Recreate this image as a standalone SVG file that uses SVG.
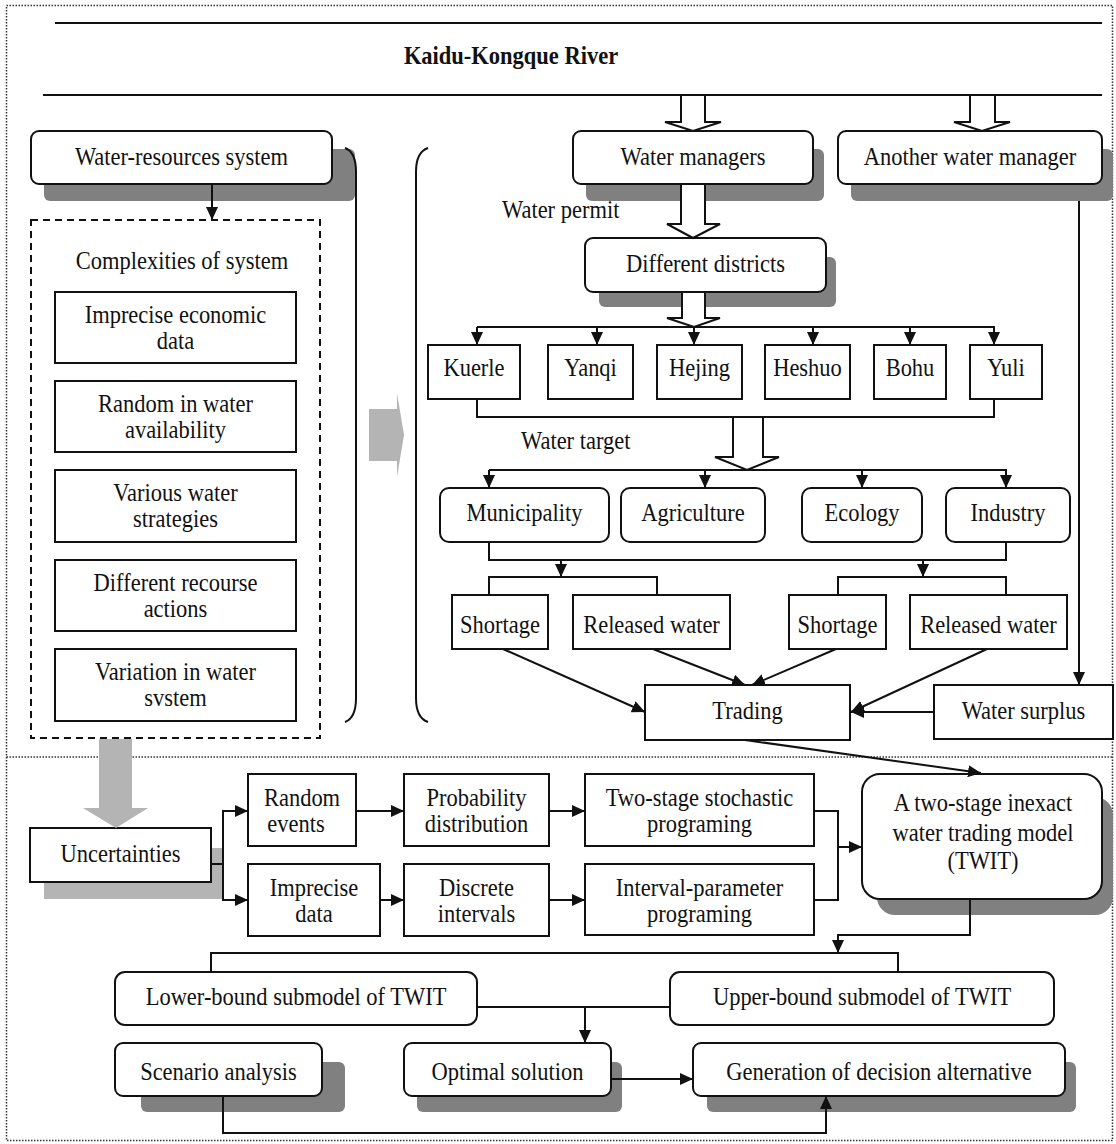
<svg xmlns="http://www.w3.org/2000/svg" width="1116" height="1144" viewBox="0 0 1116 1144">
<style>
.bx{fill:#fff;stroke:#111;stroke-width:2}
.sh{fill:#808080}
.t{font-family:"Liberation Serif","Times New Roman",serif;font-size:25px;fill:#111;text-anchor:middle;transform-box:fill-box;transform-origin:50% 50%;transform:scaleX(0.9)}
.ts{font-family:"Liberation Serif","Times New Roman",serif;font-size:25px;fill:#111;transform-box:fill-box;transform-origin:0% 50%;transform:scaleX(0.9)}
.ln{fill:none;stroke:#111;stroke-width:2}
.ar{fill:none;stroke:#111;stroke-width:2;marker-end:url(#ah)}
.ho{fill:#fff;stroke:#111;stroke-width:2;stroke-linejoin:miter}
.gr{fill:#b4b4b4}
.dot{fill:none;stroke:#333;stroke-width:1.5;stroke-dasharray:1.5 1.5}
</style>
<defs>
<marker id="ah" markerUnits="userSpaceOnUse" markerWidth="13" markerHeight="12" refX="13" refY="6" orient="auto">
<path d="M0,0 L13,6 L0,12 z" fill="#111"/>
</marker>
</defs>
<rect width="1116" height="1144" fill="#fff"/>
<g id="frame">
<rect class="dot" x="6.5" y="5.5" width="1106" height="1135"/>
<line class="dot" x1="6.5" y1="757" x2="1112.5" y2="757"/>
</g>
<g id="river">
<line class="ln" x1="55" y1="23" x2="1102" y2="23"/>
<line class="ln" x1="43" y1="95" x2="1102" y2="95"/>
<text class="t" x="511" y="64" font-weight="bold">Kaidu-Kongque River</text>
</g>
<g id="water-resources">
<rect class="sh" x="44" y="149" width="311" height="52" rx="6"/>
<rect class="bx" x="31" y="131" width="301" height="53" rx="8"/>
<text class="t" x="181.5" y="165">Water-resources system</text>
</g>
<g id="braces">
<path class="ln" d="M345,148 Q356,152 356,172 L356,698 Q356,718 345,722"/>
<path class="ln" d="M428,148 Q416,152 416,172 L416,698 Q416,718 428,722"/>
</g>
<g id="complexities">
<rect x="31" y="220" width="289" height="518" fill="none" stroke="#111" stroke-width="2" stroke-dasharray="7 5"/>
<text class="t" x="182" y="269">Complexities of system</text>
</g>
<g id="c1"><rect class="bx" x="55" y="292" width="241" height="71"/><text class="t" x="175.5" y="323">Imprecise economic</text><text class="t" x="175.5" y="349">data</text></g>
<g id="c2"><rect class="bx" x="55" y="381" width="241" height="71"/><text class="t" x="175.5" y="412">Random in water</text><text class="t" x="175.5" y="438">availability</text></g>
<g id="c3"><rect class="bx" x="55" y="470" width="241" height="72"/><text class="t" x="175.5" y="501">Various water</text><text class="t" x="175.5" y="527">strategies</text></g>
<g id="c4"><rect class="bx" x="55" y="560" width="241" height="71"/><text class="t" x="175.5" y="591">Different recourse</text><text class="t" x="175.5" y="617">actions</text></g>
<g id="c5"><rect class="bx" x="55" y="649" width="241" height="72"/><text class="t" x="175.5" y="680">Variation in water</text><text class="t" x="175.5" y="706">svstem</text></g>

<g id="water-managers">
<rect class="sh" x="586" y="149" width="238" height="52" rx="6"/>
<rect class="bx" x="573" y="131" width="240" height="53" rx="8"/>
<text class="t" x="693" y="165">Water managers</text>
</g>
<g id="another-manager">
<rect class="sh" x="851" y="149" width="262" height="52" rx="6"/>
<rect class="bx" x="838" y="131" width="264" height="53" rx="8"/>
<text class="t" x="970" y="165">Another water manager</text>
</g>
<g id="water-permit"><text class="ts" x="502" y="218">Water permit</text></g>
<g id="districts">
<rect class="sh" x="599" y="257" width="237" height="50" rx="6"/>
<rect class="bx" x="585" y="238" width="241" height="54" rx="8"/>
<text class="t" x="705.5" y="272">Different districts</text>
</g>
<g id="kuerle"><rect class="bx" x="428" y="345" width="92" height="54"/><text class="t" x="474" y="376">Kuerle</text></g>
<g id="yanqi"><rect class="bx" x="548" y="345" width="85" height="54"/><text class="t" x="590.5" y="376">Yanqi</text></g>
<g id="hejing"><rect class="bx" x="657" y="345" width="85" height="54"/><text class="t" x="699.5" y="376">Hejing</text></g>
<g id="heshuo"><rect class="bx" x="765" y="345" width="85" height="54"/><text class="t" x="807.5" y="376">Heshuo</text></g>
<g id="bohu"><rect class="bx" x="874" y="345" width="72" height="54"/><text class="t" x="910" y="376">Bohu</text></g>
<g id="yuli"><rect class="bx" x="970" y="345" width="72" height="54"/><text class="t" x="1006" y="376">Yuli</text></g>
<g id="water-target"><text class="ts" x="521" y="449">Water target</text></g>
<g id="municipality"><rect class="bx" x="440" y="488" width="169" height="54" rx="9"/><text class="t" x="524.5" y="521">Municipality</text></g>
<g id="agriculture"><rect class="bx" x="621" y="488" width="144" height="54" rx="9"/><text class="t" x="693" y="521">Agriculture</text></g>
<g id="ecology"><rect class="bx" x="802" y="488" width="120" height="54" rx="9"/><text class="t" x="862" y="521">Ecology</text></g>
<g id="industry"><rect class="bx" x="946" y="488" width="124" height="54" rx="9"/><text class="t" x="1008" y="521">Industry</text></g>
<g id="shortage1"><rect class="bx" x="452" y="595" width="96" height="54"/><text class="t" x="500" y="633">Shortage</text></g>
<g id="released1"><rect class="bx" x="573" y="595" width="157" height="54"/><text class="t" x="651.5" y="633">Released water</text></g>
<g id="shortage2"><rect class="bx" x="789" y="595" width="97" height="54"/><text class="t" x="837.5" y="633">Shortage</text></g>
<g id="released2"><rect class="bx" x="910" y="595" width="157" height="54"/><text class="t" x="988.5" y="633">Released water</text></g>
<g id="trading"><rect class="bx" x="645" y="685" width="205" height="55"/><text class="t" x="747.5" y="719">Trading</text></g>
<g id="water-surplus"><rect class="bx" x="934" y="685" width="179" height="54"/><text class="t" x="1023.5" y="719">Water surplus</text></g>

<g id="uncertainties">
<rect class="gr" x="44" y="848" width="179" height="51"/>
<rect class="bx" x="30" y="828" width="181" height="54"/>
<text class="t" x="120.5" y="862">Uncertainties</text>
</g>
<g id="random-events"><rect class="bx" x="248" y="774" width="108" height="72"/><text class="t" x="302" y="806">Random</text><text class="t" x="296" y="832">events</text></g>
<g id="probability"><rect class="bx" x="404" y="774" width="145" height="72"/><text class="t" x="476.5" y="806">Probability</text><text class="t" x="476.5" y="832">distribution</text></g>
<g id="two-stage"><rect class="bx" x="585" y="774" width="229" height="72"/><text class="t" x="699.5" y="806">Two-stage stochastic</text><text class="t" x="699.5" y="832">programing</text></g>
<g id="imprecise-data"><rect class="bx" x="248" y="864" width="132" height="72"/><text class="t" x="314" y="896">Imprecise</text><text class="t" x="314" y="922">data</text></g>
<g id="discrete"><rect class="bx" x="404" y="864" width="145" height="72"/><text class="t" x="476.5" y="896">Discrete</text><text class="t" x="476.5" y="922">intervals</text></g>
<g id="interval-param"><rect class="bx" x="585" y="864" width="229" height="71"/><text class="t" x="699.5" y="896">Interval-parameter</text><text class="t" x="699.5" y="922">programing</text></g>
<g id="twit">
<rect class="sh" x="877" y="797" width="236" height="118" rx="18"/>
<rect class="bx" x="862" y="774" width="240" height="125" rx="18"/>
<text class="t" x="983" y="811">A two-stage inexact</text>
<text class="t" x="983" y="841">water trading model</text>
<text class="t" x="983" y="869">(TWIT)</text>
</g>
<g id="lower-bound"><rect class="bx" x="115" y="972" width="362" height="53" rx="10"/><text class="t" x="296" y="1005">Lower-bound submodel of TWIT</text></g>
<g id="upper-bound"><rect class="bx" x="670" y="972" width="384" height="53" rx="10"/><text class="t" x="862" y="1005">Upper-bound submodel of TWIT</text></g>
<g id="scenario">
<rect class="sh" x="141" y="1062" width="204" height="50" rx="6"/>
<rect class="bx" x="115" y="1043" width="207" height="53" rx="8"/>
<text class="t" x="218.5" y="1080">Scenario analysis</text>
</g>
<g id="optimal">
<rect class="sh" x="417" y="1062" width="205" height="50" rx="6"/>
<rect class="bx" x="404" y="1043" width="207" height="53" rx="8"/>
<text class="t" x="507.5" y="1080">Optimal solution</text>
</g>
<g id="generation">
<rect class="sh" x="707" y="1062" width="369" height="50" rx="6"/>
<rect class="bx" x="693" y="1043" width="372" height="53" rx="8"/>
<text class="t" x="879" y="1080">Generation of decision alternative</text>
</g>

<g id="connectors">
<polygon class="ho" points="681,95 681,122 665,122 693,131 721,122 705,122 705,95"/>
<polygon class="ho" points="970,95 970,122 954,122 982,131 1010,122 995,122 995,95"/>
<polygon class="ho" points="681,184 681,224 667,224 693,238 720,224 705,224 705,184"/>
<polygon class="ho" points="682,292 682,318 667,318 694,327 720,318 705,318 705,292"/>
<polygon class="ho" points="733,417 733,457 715,457 747,470 779,457 763,457 763,417"/>
<line class="ar" x1="212" y1="184" x2="212" y2="220"/>
<polygon class="gr" points="369,409 397,409 397,393 404,435 397,477 397,461 369,461"/>
<line class="ln" x1="477" y1="327" x2="994" y2="327"/>
<line class="ar" x1="477" y1="327" x2="477" y2="345"/>
<line class="ar" x1="597" y1="327" x2="597" y2="345"/>
<line class="ar" x1="694" y1="327" x2="694" y2="345"/>
<line class="ar" x1="813" y1="327" x2="813" y2="345"/>
<line class="ar" x1="910" y1="327" x2="910" y2="345"/>
<line class="ar" x1="994" y1="326" x2="994" y2="345"/>
<path class="ln" d="M477,399 V417 H994 V399"/>
<line class="ln" x1="489" y1="470" x2="1006" y2="470"/>
<line class="ar" x1="489" y1="470" x2="489" y2="488"/>
<line class="ar" x1="705" y1="470" x2="705" y2="488"/>
<line class="ar" x1="862" y1="470" x2="862" y2="488"/>
<line class="ar" x1="1006" y1="469" x2="1006" y2="488"/>
<path class="ln" d="M489,542 V560 H1006 V542"/>
<line class="ar" x1="561" y1="560" x2="561" y2="577"/>
<line class="ar" x1="923" y1="560" x2="923" y2="577"/>
<path class="ln" d="M489,595 V577 H657 V595"/>
<path class="ln" d="M838,595 V577 H1006 V595"/>
<line class="ar" x1="503" y1="649" x2="645" y2="712"/>
<line class="ar" x1="653" y1="649" x2="745" y2="685"/>
<line class="ar" x1="836" y1="649" x2="752" y2="685"/>
<line class="ar" x1="987" y1="649" x2="851" y2="712"/>
<line class="ar" x1="934" y1="712" x2="851" y2="712"/>
<line class="ar" x1="1079" y1="201" x2="1079" y2="685"/>
<line class="ar" x1="745" y1="740" x2="981" y2="773"/>
<polygon class="gr" points="99,739 99,808 83,808 116,828 148,808 132,808 132,739"/>
<path class="ln" d="M211,864 H223"/>
<path class="ln" d="M248,811 H223 V900 H248"/>
<line class="ar" x1="223" y1="811" x2="248" y2="811"/>
<line class="ar" x1="223" y1="900" x2="248" y2="900"/>
<line class="ar" x1="356" y1="811" x2="404" y2="811"/>
<line class="ar" x1="380" y1="900" x2="404" y2="900"/>
<line class="ar" x1="549" y1="811" x2="585" y2="811"/>
<line class="ar" x1="549" y1="900" x2="585" y2="900"/>
<path class="ln" d="M814,811 H838 V900 H814"/>
<line class="ar" x1="838" y1="847" x2="862" y2="847"/>
<path class="ar" d="M970,899 V935 H838 V953"/>
<path class="ln" d="M211,972 V953 H898 V972"/>
<line class="ln" x1="477" y1="1007" x2="670" y2="1007"/>
<line class="ar" x1="585" y1="1007" x2="585" y2="1043"/>
<line class="ar" x1="611" y1="1079" x2="693" y2="1079"/>
<path class="ar" d="M223,1096 V1133 H826 V1096"/>
</g>
</svg>
